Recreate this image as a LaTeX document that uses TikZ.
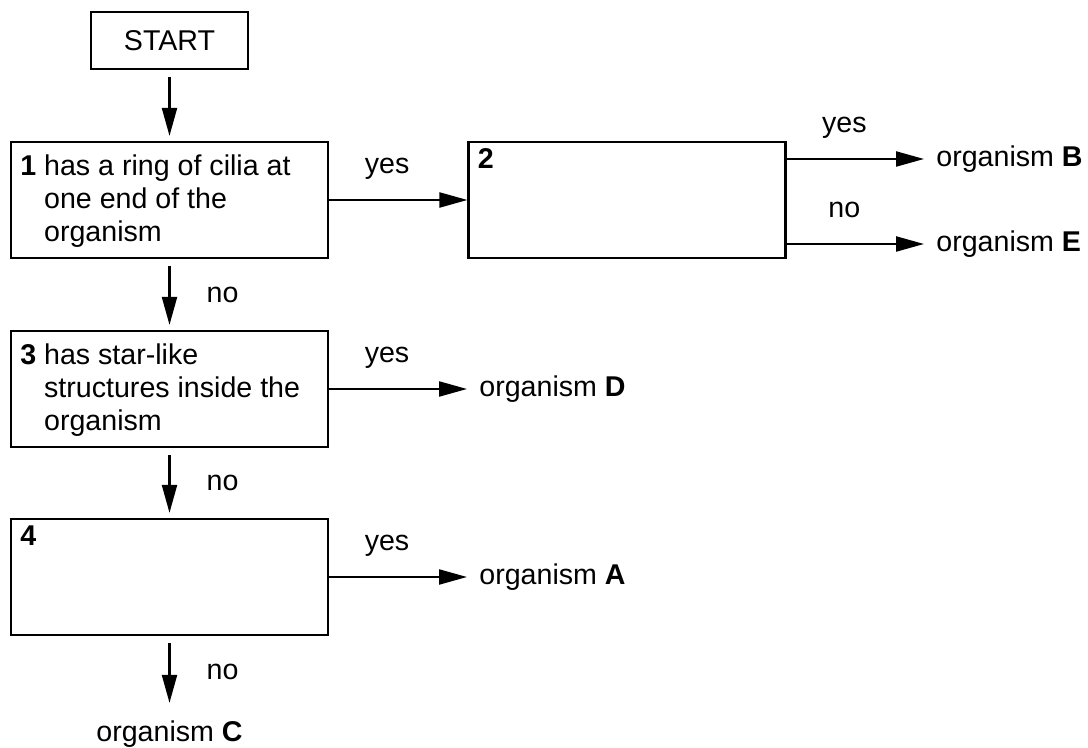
\documentclass[tikz,border=0pt]{standalone}
\usepackage{fontspec}
\setmainfont{Liberation Sans}
\usetikzlibrary{arrows.meta}
\newcommand{\keystep}[2]{\textbf{#1} \begin{tabular}[t]{@{}l@{}}#2\end{tabular}}

\begin{document}
\begin{tikzpicture}[x=0.5pt,y=-0.5pt,
  font=\fontsize{14.3pt}{16.4pt}\selectfont,
  keybox/.style={draw, line width=1.1pt, minimum width=158.5pt, minimum height=58pt, inner sep=0pt},
  steptext/.style={inner sep=0pt, anchor=west},
  outcome/.style={inner sep=6pt, anchor=west},
  flow/.style={line width=1.1pt, -{Triangle[length=14pt,width=7.5pt]}},
  down/.style={shorten <=3.5pt, shorten >=2.5pt},
  choice/.style={pos=0.42, anchor=base, yshift=13pt, inner sep=0pt},
  nolabel/.style={midway, right=18pt, inner sep=0pt}]
\useasboundingbox (0,0) rectangle (1088,748);

\node[draw, line width=1.1pt, minimum width=78.5pt, minimum height=28.5pt] (start) at (169.5,40.5) {START};

\node[keybox] (k1) at (169.5,200) {};
\node[keybox] (k2) at (627,200) {};
\node[keybox] (k3) at (169.5,389) {};
\node[keybox] (k4) at (169.5,577) {};

\node[steptext] (k1txt) at ([xshift=5pt,yshift=-1pt]k1.west) {\keystep{1}{has a ring of cilia at\\one end of the\\organism}};
\node[steptext, anchor=base west] (k2num) at ([shift={(10,28)}]k2.north west) {\textbf{2}};
\node[steptext] (k3txt) at ([xshift=5pt,yshift=-1pt]k3.west) {\keystep{3}{has star-like\\structures inside the\\organism}};
\node[steptext, anchor=base west] (k4num) at ([shift={(10,28)}]k4.north west) {\textbf{4}};

\node[outcome] (orgB) at (924,159) {organism \textbf{B}};
\node[outcome] (orgE) at (924,244) {organism \textbf{E}};
\node[outcome] (orgD) at (467,389) {organism \textbf{D}};
\node[outcome] (orgA) at (467,577) {organism \textbf{A}};
\node[outcome, anchor=base] (orgC) at (169.5,741) {organism \textbf{C}};

\path[draw,flow,down] (start) -- (k1);
\path[draw,flow] (k1) -- node[choice] (y1) {yes} (k2);
\path[draw,flow] (k2.east |- orgB) -- node[choice] (y2) {yes} (orgB);
\path[draw,flow] (k2.east |- orgE) -- node[choice] (n2) {no} (orgE);
\path[draw,flow,down] (k1) -- node[nolabel] (n1) {no} (k3);
\path[draw,flow] (k3) -- node[choice] (y3) {yes} (orgD);
\path[draw,flow,down] (k3) -- node[nolabel] (n3) {no} (k4);
\path[draw,flow] (k4) -- node[choice] (y4) {yes} (orgA);
\path[draw,flow,down] (k4) -- node[nolabel] (n4) {no} (orgC);
\end{tikzpicture}
\end{document}
